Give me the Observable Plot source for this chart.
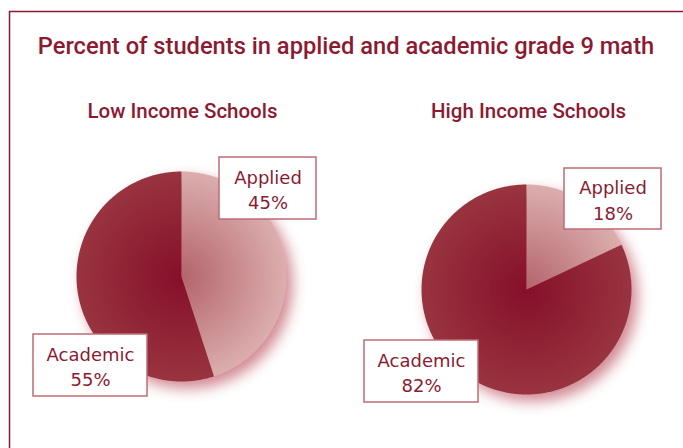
<!DOCTYPE html>
<html>
<head>
<meta charset="utf-8">
<script src="https://cdn.jsdelivr.net/npm/d3@7"></script>
<script src="https://cdn.jsdelivr.net/npm/@observablehq/plot@0.6"></script>
<style>
  html, body { margin: 0; padding: 0; background: #fff; }
  #chart svg { display: block; }
</style>
</head>
<body>
<div id="chart"></div>
<script>
// ---- data ----
const title = "Percent of students in applied and academic grade 9 math";
const groups = ["Low Income Schools", "High Income Schools"];
const categories = ["Applied", "Academic"];
const appliedPct = [45, 18];
const academicPct = [55, 82];

// ---- layout (pixels) ----
const W = 683, H = 448;
const RED = "#8b1a32";
const BOXSTROKE = "#bf6b74";
const layout = [
  {cx: 181, cy: 276, r: 105, tx: 182,
   boxes: {Applied: [219, 157, 316, 219], Academic: [33, 334, 147, 396]}},
  {cx: 526, cy: 289, r: 105, tx: 528,
   boxes: {Applied: [564, 168, 661, 229], Academic: [364, 340, 478, 402]}}
];

// build slice polygons from percentages
const slices = [];
const full = [];
groups.forEach((g, gi) => {
  const L = layout[gi];
  const vals = [appliedPct[gi], academicPct[gi]];
  let start = 0;
  vals.forEach((v, ci) => {
    const a0 = start / 100 * 2 * Math.PI;
    const a1 = (start + v) / 100 * 2 * Math.PI;
    const key = gi + "-" + ci;
    slices.push({key, gi, ci, x: L.cx, y: L.cy});
    const n = Math.max(2, Math.ceil((a1 - a0) / 0.01));
    for (let i = 0; i <= n; i++) {
      const a = a0 + (a1 - a0) * i / n;
      slices.push({key, gi, ci, x: L.cx + L.r * Math.sin(a), y: L.cy - L.r * Math.cos(a)});
    }
    start += v;
  });
  for (let i = 0; i <= 360; i++) {
    const a = i / 360 * 2 * Math.PI;
    full.push({gi, x: L.cx + L.r * Math.sin(a), y: L.cy - L.r * Math.cos(a)});
  }
});

const boxes = [];
groups.forEach((g, gi) => {
  const vals = [appliedPct[gi], academicPct[gi]];
  categories.forEach((c, ci) => {
    const b = layout[gi].boxes[c];
    boxes.push({x1: b[0], y1: b[1], x2: b[2], y2: b[3], label: c + "\n" + vals[ci] + "%"});
  });
});

const sliceMarks = [];
groups.forEach((g, gi) => {
  categories.forEach((c, ci) => {
    sliceMarks.push(Plot.line(slices.filter(d => d.gi === gi && d.ci === ci), {
      x: "x", y: "y", curve: "linear", stroke: "none",
      fill: `url(#grad-${gi}-${ci})`
    }));
  });
});

const plot = Plot.plot({
  width: W, height: H,
  margin: 0,
  x: {domain: [0, W], range: [0, W], axis: null},
  y: {domain: [0, H], range: [0, H], axis: null},
  style: {background: "#fff", overflow: "visible"},
  marks: [
    Plot.ruleY([11], {x1: 9, x2: W, stroke: RED, strokeWidth: 1.5}),
    Plot.ruleX([9], {y1: 11, y2: H, stroke: RED, strokeWidth: 1.5}),
    Plot.text([title], {x: 345.5, y: 53, text: d => d, fill: RED, fontSize: 23.7, fontWeight: 500,
      fontFamily: "Roboto, sans-serif", textAnchor: "middle", lineAnchor: "bottom"}),
    Plot.text(groups, {x: (d, i) => layout[i].tx, y: 117, text: d => d, fill: RED, fontSize: 20.5, fontWeight: 500,
      fontFamily: "Roboto, sans-serif", textAnchor: "middle", lineAnchor: "bottom"}),
    Plot.line(full, {x: "x", y: "y", z: "gi", stroke: "none", fill: "#b33a4c", className: "pie-shadow"}),
    ...sliceMarks,
    Plot.rect(boxes, {x1: "x1", x2: "x2", y1: "y1", y2: "y2", fill: "#fff", stroke: BOXSTROKE, strokeWidth: 1.5}),
    Plot.text(boxes, {x: d => (d.x1 + d.x2) / 2, y: d => (d.y1 + d.y2) / 2, text: "label", fill: RED,
      fontSize: 18, lineHeight: 1.4, fontFamily: "DejaVu Sans, sans-serif", textAnchor: "middle"})
  ]
});

// gradients & shadow filter
const svg = d3.select(plot);
const defs = svg.insert("defs", ":first-child");
const colors = [["#b3646b", "#dcaeae"], ["#860f2a", "#98343f"]];
groups.forEach((g, gi) => {
  const L = layout[gi];
  categories.forEach((c, ci) => {
    const col = colors[ci];
    const gr = defs.append("radialGradient").attr("id", `grad-${gi}-${ci}`)
      .attr("gradientUnits", "userSpaceOnUse").attr("cx", L.cx).attr("cy", L.cy).attr("r", L.r);
    gr.append("stop").attr("offset", "0%").attr("stop-color", col[0]);
    gr.append("stop").attr("offset", "100%").attr("stop-color", col[1]);
  });
});
const f = defs.append("filter").attr("id", "shadow").attr("x", "-30%").attr("y", "-30%").attr("width", "160%").attr("height", "160%");
f.append("feGaussianBlur").attr("in", "SourceGraphic").attr("stdDeviation", 7);
f.append("feOffset").attr("dx", 6).attr("dy", 7);
svg.selectAll(".pie-shadow").attr("filter", "url(#shadow)").attr("opacity", 0.6);

document.getElementById("chart").appendChild(plot);
</script>
</body>
</html>
